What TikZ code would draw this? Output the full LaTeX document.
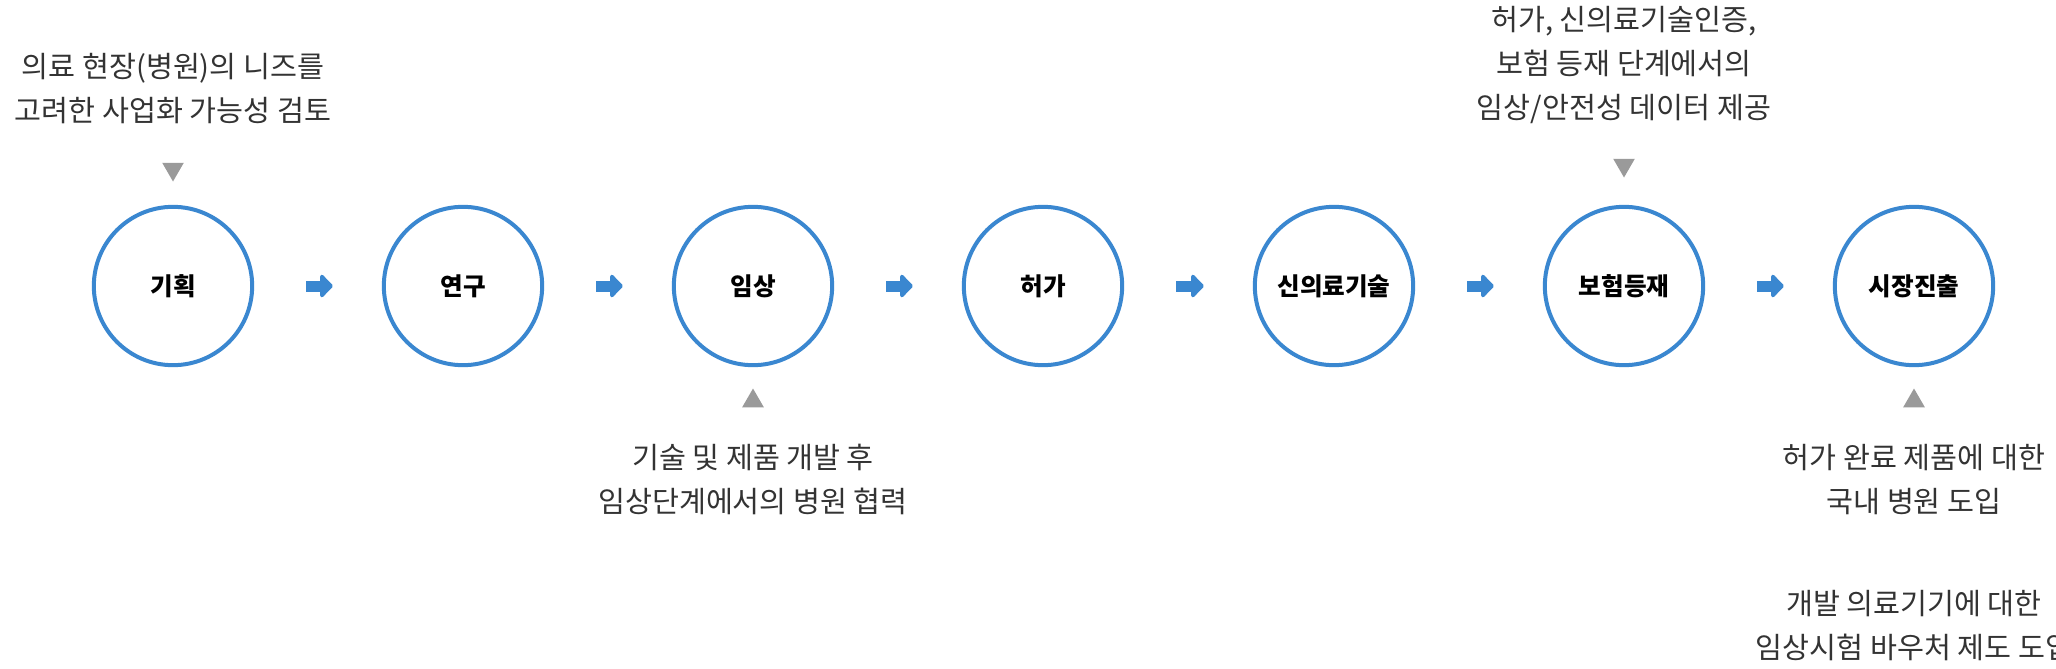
\documentclass[tikz,border=0pt]{standalone}
\usepackage{fontspec}
\setmainfont{Noto Sans CJK KR}
\usetikzlibrary{arrows.meta,shapes.geometric}
\definecolor{stepblue}{HTML}{3A87D0}
\definecolor{markgray}{HTML}{9A9A9A}
\definecolor{notegray}{HTML}{333333}

\tikzset{
  stage/.style={circle, draw=stepblue, line width=0.12cm, minimum size=4.75cm, fill=white, font=\bfseries\fontsize{21}{25}\selectfont},
  flow/.style={stepblue, line width=0.33cm, shorten <=1.56cm, shorten >=1.47cm, -{Triangle[length=0.4cm,width=0.8cm,round]}},
  note/.style={align=center, text=notegray, font=\fontsize{25}{37.5}\selectfont},
  markdown/.style={regular polygon, regular polygon sides=3, shape border rotate=180, fill=markgray, inner sep=0pt, minimum size=0.75cm},
  markup/.style={regular polygon, regular polygon sides=3, fill=markgray, inner sep=0pt, minimum size=0.75cm}
}

\begin{document}
\begin{tikzpicture}[x=0.03cm,y=-0.03cm]
\useasboundingbox (0,0) rectangle (2056,668);

% stages
\node[stage] (plan) at (173,286) {기획};
\node[stage] (study) at (463,286) {연구};
\node[stage] (trial) at (753,286) {임상};
\node[stage] (permit) at (1043,286) {허가};
\node[stage] (newtech) at (1334,286) {신의료기술};
\node[stage] (insure) at (1624,286) {보험등재};
\node[stage] (market) at (1914,286) {시장진출};

\draw[flow] (plan) -- (study);
\draw[flow] (study) -- (trial);
\draw[flow] (trial) -- (permit);
\draw[flow] (permit) -- (newtech);
\draw[flow] (newtech) -- (insure);
\draw[flow] (insure) -- (market);

% notes
\node[markdown] (m1) at (173,169) {};
\node[note, anchor=south] (n1) at (173,128) {의료 현장(병원)의 니즈를\\고려한 사업화 가능성 검토};

\node[markdown] (m2) at (1624,165) {};
\node[note, anchor=south] (n2) at (1624,128) {허가, 신의료기술인증,\\보험 등재 단계에서의\\임상/안전성 데이터 제공};

\node[markup] (m3) at (753,401) {};
\node[note, anchor=north] (n3) at (753,440) {기술 및 제품 개발 후\\임상단계에서의 병원 협력};

\node[markup] (m4) at (1914,401) {};
\node[note, anchor=north] (n4) at (1914,440) {허가 완료 제품에 대한\\국내 병원 도입};
\node[note, anchor=north] (n5) at (1914,586) {개발 의료기기에 대한\\임상시험 바우처 제도 도입};
\end{tikzpicture}
\end{document}
